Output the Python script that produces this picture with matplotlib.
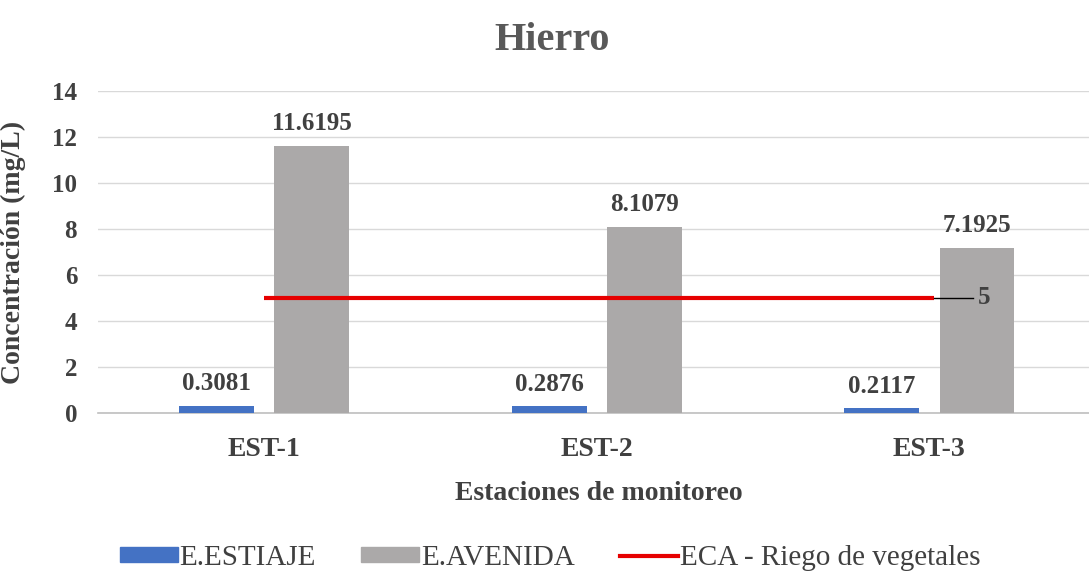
import matplotlib
matplotlib.use("Agg")
import matplotlib.pyplot as plt
from matplotlib.patches import Patch
from matplotlib.lines import Line2D
import numpy as np

categories = ["EST-1", "EST-2", "EST-3"]
estiaje = [0.3081, 0.2876, 0.2117]
avenida = [11.6195, 8.1079, 7.1925]
eca_value = 5
yticks = [0, 2, 4, 6, 8, 10, 12, 14]

plt.rcParams['font.family'] = ['Liberation Serif', 'DejaVu Serif']
txt = '#404040'

fig = plt.figure(figsize=(10.89, 5.74), dpi=100)
ax = fig.add_axes([0.09, 0.2805, 0.91, 0.561])

x = np.arange(len(categories))
w = 0.225
off = 0.143
c_blue = '#4472C4'
c_gray = '#ABA9A9'
c_red = '#E60000'

ax.bar(x - off, estiaje, w, color=c_blue, zorder=3)
ax.bar(x + off, avenida, w, color=c_gray, zorder=3)

for xi, v in zip(x - off, estiaje):
    ax.annotate(f"{v:.4f}", (xi, v), xytext=(0, 7.5), textcoords='offset points',
                ha='center', va='bottom', fontsize=18, fontweight='bold', color=txt)
for xi, v in zip(x + off, avenida):
    ax.annotate(f"{v:.4f}", (xi, v), xytext=(0, 7.5), textcoords='offset points',
                ha='center', va='bottom', fontsize=18, fontweight='bold', color=txt)

ax.plot([x[0], x[-1] + 0.015], [eca_value, eca_value], color=c_red, lw=3, zorder=4,
        solid_capstyle='butt')
ax.plot([x[-1] + 0.015, x[-1] + 0.13], [eca_value, eca_value], color='black', lw=1, zorder=4)
ax.text(x[-1] + 0.165, eca_value, f"{eca_value}", ha='center', va='center',
        fontsize=18, fontweight='bold', color=txt, zorder=5)

ax.set_ylim(0, 14)
ax.set_xlim(-0.5, 2.48)
ax.set_yticks(yticks)
ax.set_yticklabels([str(t) for t in yticks], fontsize=18, fontweight='bold', color=txt)
ax.set_xticks(x)
ax.set_xticklabels(categories, fontsize=20, fontweight='bold', color=txt)
ax.tick_params(axis='both', length=0)
ax.tick_params(axis='y', pad=15)
ax.tick_params(axis='x', pad=17)

ax.grid(axis='y', color='#D9D9D9', lw=1, zorder=0)
for s in ['top', 'right', 'left']:
    ax.spines[s].set_visible(False)
ax.spines['bottom'].set_color('#BFBFBF')
ax.spines['bottom'].set_linewidth(1.2)

ax.set_ylabel("Concentración (mg/L)", fontsize=20, fontweight='bold', color=txt)
ax.set_xlabel("Estaciones de monitoreo", fontsize=20, fontweight='bold', color=txt)
ax.yaxis.set_label_coords(-0.073, 0.5)
ax.xaxis.set_label_coords(0.505, -0.21)

fig.text(0.507, 0.93, "Hierro", ha='center', va='center', fontsize=29,
         fontweight='bold', color='#595959')

handles = [Patch(color=c_blue), Patch(color=c_gray),
           Line2D([0], [0], color=c_red, lw=3)]
labels = ["E.ESTIAJE", "E.AVENIDA", "ECA - Riego de vegetales"]
leg = fig.legend(handles, labels, loc='center', bbox_to_anchor=(0.505, 0.028), ncol=3,
                 frameon=False, fontsize=21, handlelength=2.0, handleheight=0.42,
                 handletextpad=0.05, columnspacing=1.55)
for t in leg.get_texts():
    t.set_color(txt)

fig.savefig("out.png", dpi=100)
